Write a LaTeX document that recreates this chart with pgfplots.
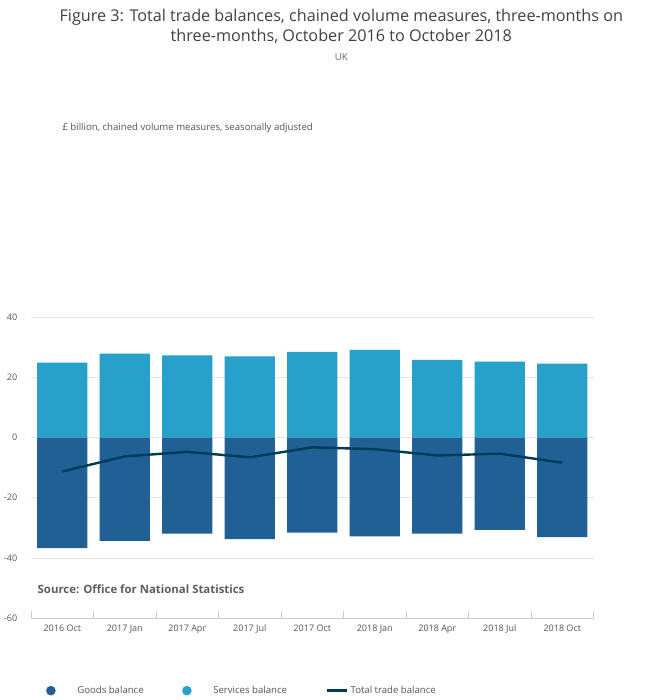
\documentclass[border=0pt]{standalone}
\usepackage{pgfplots}
\pgfplotsset{compat=1.18}
\usepackage{fontspec}
\setmainfont{Open Sans}
\definecolor{goods}{HTML}{206095}
\definecolor{serv}{HTML}{27A0CC}
\definecolor{tot}{HTML}{003C57}
\definecolor{txt}{HTML}{414042}
\begin{document}
\begin{tikzpicture}
\path (0pt,0pt) rectangle (525pt,-511.5pt);
\node[align=center,font=\fontsize{13.5}{16}\selectfont,text=txt] at (262.5pt,-22pt) {Figure 3: Total trade balances, chained volume measures, three-months on\\three-months, October 2016 to October 2018};
\node[font=\fontsize{8}{10}\selectfont,text=txt!80] at (262.5pt,-48pt) {UK};
\node[font=\bfseries\fontsize{9.5}{11}\selectfont,text=txt!85,anchor=west] at (6pt,-491pt) {Source: Office for National Statistics};
\node[anchor=west,font=\fontsize{8}{10}\selectfont,text=txt!90,inner sep=0pt] at (30pt,-107pt) {£ billion, chained volume measures, seasonally adjusted};
\begin{axis}[at={(30pt,-364.5pt)},anchor=origin,scale only axis,width=468.75pt,height=251.25pt,
 xmin=-0.5,xmax=8.5,ymin=-60,ymax=40,ytick={-60,-40,...,40},
 xtick={0,...,8},xticklabels={2016 Oct,2017 Jan,2017 Apr,2017 Jul,2017 Oct,2018 Jan,2018 Apr,2018 Jul,2018 Oct},
 minor xtick={-0.5,0.5,...,8.5},
 /pgf/number format/assume math mode=true,
 tick label style={font=\fontsize{7.5}{9}\selectfont,text=txt!90},
 axis y line*=left, axis x line*=bottom, y axis line style={draw=none},
 x axis line style={draw=gray!40},
 major x tick style={draw=none}, minor x tick style={draw=gray!40},
 minor tick length=6pt, ytick style={draw=none},
 xticklabel style={yshift=-2pt},
 ymajorgrids, grid style={draw=gray!20},
 yticklabel style={xshift=-8pt},
 legend style={at={(0.02,-0.24)},anchor=west,draw=none,fill=none,legend columns=3,font=\fontsize{8}{10}\selectfont,text=txt!90,/tikz/every even column/.append style={column sep=30pt}},
 legend cell align=left,
 ]
\addplot[ybar,bar width=42pt,fill=goods,draw=none,legend image code/.code={\fill[goods](0.3cm,0) circle (4pt);}] coordinates {(0,-36.7)(1,-34.3)(2,-31.9)(3,-33.7)(4,-31.6)(5,-32.8)(6,-31.9)(7,-30.7)(8,-33.1)};
\addlegendentry{\hspace{16pt}Goods balance}
\addplot[ybar,bar width=42pt,fill=serv,draw=none,legend image code/.code={\fill[serv](0.3cm,0) circle (4pt);}] coordinates {(0,24.8)(1,27.8)(2,27.2)(3,26.9)(4,28.4)(5,29.0)(6,25.7)(7,25.1)(8,24.5)};
\addlegendentry{\hspace{16pt}Services balance}
\addplot[tot,line width=2pt,mark=none] coordinates {(0,-11.3)(1,-6.3)(2,-4.8)(3,-6.6)(4,-3.3)(5,-3.9)(6,-6.0)(7,-5.4)(8,-8.4)};
\addlegendentry{Total trade balance}
\end{axis}
\end{tikzpicture}
\end{document}
